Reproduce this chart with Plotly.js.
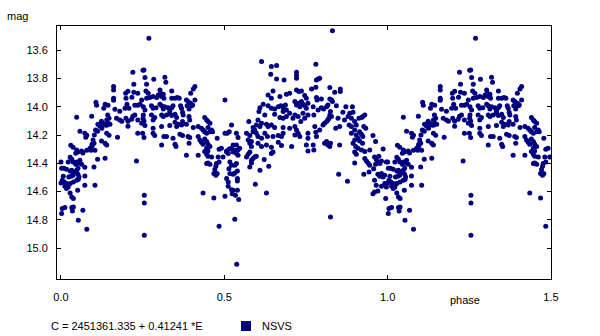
<!DOCTYPE html>
<html>
<head>
<meta charset="utf-8">
<script src="https://cdn.plot.ly/plotly-3.0.1.min.js"></script>
<style>html,body{margin:0;padding:0;background:#fff;}#chart{width:600px;height:336px;}</style>
</head>
<body>
<div id="chart"></div>
<script>
// Phase-folded light curve (phase 0..1); the first half is repeated at phase+1 as in the original plot.
const phase = [
0.220,0.251,0.223,0.161,0.161,0.205,0.198,0.223,0.235,0.161,
0.161,0.107,0.109,0.135,0.144,0.131,0.199,0.202,0.196,0.208,
0.217,0.226,0.235,0.242,0.165,0.180,0.048,0.094,0.143,0.147,
0.140,0.170,0.180,0.186,0.199,0.205,0.216,0.220,0.226,0.235,
0.251,0.247,0.124,0.128,0.135,0.140,0.144,0.150,0.113,0.119,
0.125,0.205,0.058,0.106,0.112,0.102,0.073,0.079,0.076,0.140,
0.147,0.173,0.235,0.098,0.095,0.101,0.089,0.095,0.124,0.135,
0.140,0.030,0.037,0.048,0.063,
0.052,0.067,0.079,0.092,0.104,0.045,0.028,0.033,0.022,0.037,
0.048,0.058,0.052,0.063,0.045,0.000,0.002,0.009,0.017,0.028,
0.033,0.037,0.043,0.048,0.052,0.073,0.101,0.112,0.135,0.231,
0.007,0.024,0.031,0.037,0.052,0.055,0.073,0.004,0.000,0.010,
0.017,0.022,0.012,0.028,0.038,0.048,0.053,0.073,0.104,0.017,
0.022,0.028,0.033,0.038,0.051,0.004,0.012,0.002,0.033,0.038,
0.035,0.067,0.053,0.079,0.255,0.255,0.255,
0.269,0.254,0.257,0.262,0.284,0.318,0.321,0.260,0.267,0.303,
0.339,0.410,0.405,0.397,0.247,0.262,0.272,0.282,0.293,0.298,
0.305,0.308,0.313,0.315,0.339,0.349,0.356,0.362,0.384,0.389,
0.397,0.403,0.410,0.502,0.252,0.257,0.277,0.282,0.291,0.303,
0.308,0.313,0.318,0.328,0.333,0.339,0.343,0.366,0.369,0.386,
0.392,0.400,0.252,0.277,0.287,0.282,0.308,0.313,0.323,0.333,
0.339,0.349,0.354,0.372,0.374,0.392,0.394,0.254,0.257,0.282,
0.308,0.333,0.349,0.354,0.359,0.369,0.372,0.384,0.405,0.440,
0.446,0.450,0.456,0.420,0.430,0.435,0.440,0.446,0.450,0.456,
0.461,0.250,0.254,0.282,0.287,0.315,0.323,0.343,0.364,0.372,
0.389,0.394,0.308,0.349,0.352,0.392,0.420,0.425,0.430,0.435,
0.440,0.446,0.450,0.446,0.450,0.456,0.440,0.464,0.478,0.484,
0.491,0.502,0.509,0.515,0.507,0.515,
0.384,0.420,0.446,0.450,0.461,0.481,0.484,0.476,0.474,0.471,
0.468,0.474,0.478,0.446,0.450,0.456,0.435,0.468,0.484,0.496,
0.614,0.644,0.660,0.642,0.660,0.683,0.721,0.721,0.721,0.649,
0.634,0.644,0.670,0.690,0.700,0.721,0.728,0.736,0.746,0.751,
0.609,0.606,0.619,0.634,0.644,0.654,0.665,0.673,0.680,0.687,
0.690,0.680,0.716,0.721,0.726,0.731,0.736,0.741,0.746,0.751,
0.756,0.624,0.654,0.670,0.680,0.690,0.700,0.710,0.716,0.726,
0.734,0.741,0.746,0.756,0.575,0.522,0.603,0.614,0.598,0.588,
0.609,0.629,0.634,0.644,0.654,0.680,0.700,0.716,0.721,0.726,
0.756,0.537,0.542,0.568,0.578,0.588,0.593,0.598,0.603,0.614,
0.624,0.632,0.649,0.665,0.675,0.680,0.716,0.731,0.756,0.522,
0.527,0.537,0.542,0.547,0.573,0.578,0.583,0.583,0.603,0.614,
0.629,0.644,0.665,0.675,0.706,0.751,
0.507,0.512,0.527,0.532,0.537,0.542,0.568,0.573,0.578,0.583,
0.588,0.593,0.598,0.583,0.622,0.644,0.649,0.756,0.517,0.522,
0.532,0.537,0.514,0.517,0.527,0.532,0.540,0.578,0.609,0.636,
0.507,0.512,0.540,0.540,0.595,0.512,0.522,0.527,0.540,0.524,
0.534,0.544,0.502,0.629,0.532,0.538,
0.831,0.780,0.782,0.787,0.792,0.767,0.780,0.823,0.855,0.855,
0.838,0.782,0.784,0.797,0.823,0.828,0.831,0.843,0.772,0.787,
0.797,0.804,0.813,0.817,0.823,0.825,0.820,0.813,0.807,0.802,
0.817,0.828,0.774,0.777,0.780,0.782,0.792,0.848,0.863,0.868,
0.872,0.879,0.884,0.889,0.892,0.894,0.899,0.882,0.889,0.853,
0.841,0.904,0.912,0.920,0.924,0.930,0.927,0.933,0.889,0.899,
0.904,0.914,0.920,0.924,0.909,0.914,0.923,0.899,0.894,0.902,
0.909,0.920,0.930,0.945,0.955,0.963,0.986,0.813,0.817,0.825,
0.823,0.853,0.807,0.772,0.774,
0.899,0.904,0.899,0.930,0.935,0.940,0.945,0.960,0.965,0.970,
0.976,0.963,0.957,0.973,0.981,0.996,0.850,0.877,0.927,0.943,
0.970,0.976,0.981,0.986,0.991,0.960,0.965,0.960,0.970,0.955,
0.981,0.991,0.996,0.994,0.825
];
const mag = [
13.756,13.742,13.841,13.857,13.881,13.890,13.904,13.897,13.904,13.940,
13.954,13.968,13.989,13.982,13.989,14.011,13.940,13.982,14.011,14.011,
13.933,13.989,13.989,13.982,14.018,14.032,14.074,14.067,14.058,14.081,
14.093,14.081,14.093,14.103,14.081,14.103,14.089,14.067,14.058,14.093,
14.081,14.117,14.103,14.117,14.129,14.131,14.117,14.124,14.124,14.138,
14.152,14.138,14.173,14.164,14.173,14.200,14.188,14.202,14.216,14.188,
14.202,14.216,14.188,14.235,14.266,14.258,14.294,14.280,14.242,14.258,
14.270,14.273,14.287,14.306,14.313,
14.320,14.327,14.308,14.308,14.308,14.329,14.358,14.372,14.391,14.391,
14.391,14.379,14.400,14.407,14.407,14.391,14.435,14.435,14.443,14.455,
14.450,14.469,14.462,14.450,14.435,14.428,14.426,14.372,14.365,14.384,
14.492,14.497,14.492,14.485,14.478,14.497,14.490,14.520,14.540,14.532,
14.544,14.556,14.563,14.544,14.532,14.520,14.515,14.556,14.556,14.579,
14.568,14.610,14.639,14.650,14.591,14.721,14.714,14.756,14.714,14.709,
14.738,14.733,14.804,14.867,14.627,14.681,14.910,
13.515,13.739,13.793,13.841,13.805,13.791,13.827,13.888,13.904,13.881,
13.888,13.857,13.874,13.904,13.952,13.940,13.935,13.928,13.935,13.916,
13.904,13.928,13.912,13.940,13.940,13.940,13.935,13.940,13.952,13.963,
13.975,13.987,13.952,13.952,13.999,14.023,13.992,14.011,14.006,13.982,
13.992,14.016,14.000,14.006,14.030,14.006,13.992,13.992,14.011,13.992,
14.016,13.992,14.058,14.058,14.076,14.093,14.058,14.069,14.058,14.046,
14.062,14.053,14.076,14.039,14.058,14.069,14.093,14.101,14.133,14.152,
14.140,14.133,14.110,14.140,14.124,14.129,14.105,14.124,14.147,14.076,
14.093,14.105,14.117,14.140,14.152,14.164,14.176,14.188,14.147,14.176,
14.164,14.188,14.218,14.188,14.204,14.211,14.211,14.223,14.195,14.204,
14.211,14.218,14.270,14.266,14.282,14.258,14.211,14.235,14.251,14.266,
14.228,14.246,14.266,14.294,14.313,14.282,14.317,14.176,14.223,14.301,
14.294,14.188,14.188,14.176,14.313,14.299,
14.343,14.343,14.336,14.350,14.355,14.355,14.391,14.402,14.421,14.445,
14.473,14.485,14.473,14.402,14.398,14.407,14.610,14.646,14.846,14.355,
13.680,13.715,13.708,13.770,13.803,13.810,13.756,13.779,13.798,13.888,
13.916,13.940,13.928,13.912,13.904,13.881,13.892,13.888,13.921,13.940,
14.006,14.034,13.982,13.992,14.011,14.016,14.000,13.992,14.006,13.987,
14.023,14.034,13.963,13.987,13.975,14.000,13.963,13.982,13.992,14.011,
13.975,14.058,14.053,14.076,14.081,14.069,14.046,14.081,14.058,14.069,
14.105,14.046,14.081,14.058,14.105,14.129,14.093,14.117,14.129,14.147,
14.140,14.124,14.140,14.129,14.147,14.147,14.152,14.140,14.164,14.188,
14.188,14.188,14.218,14.188,14.204,14.176,14.164,14.188,14.211,14.223,
14.188,14.211,14.211,14.204,14.211,14.188,14.200,14.211,14.223,14.294,
14.270,14.270,14.306,14.294,14.235,14.258,14.246,14.282,14.258,14.282,
14.270,14.287,14.251,14.275,14.282,14.270,
14.320,14.331,14.320,14.308,14.331,14.343,14.355,14.336,14.320,14.379,
14.367,14.355,14.350,14.398,14.374,14.331,14.320,14.313,14.391,14.414,
14.414,14.402,14.438,14.473,14.478,14.469,14.455,14.426,14.450,14.421,
14.508,14.532,14.508,14.525,14.549,14.563,14.587,14.591,14.591,14.615,
14.627,14.657,14.634,14.610,14.797,15.115,
13.461,13.699,13.810,13.803,13.798,13.874,13.862,13.864,13.874,13.892,
13.897,13.935,13.952,13.945,13.945,13.952,13.963,13.992,13.999,14.023,
14.006,14.016,13.999,13.987,14.058,14.034,14.081,14.105,14.117,14.129,
14.093,14.069,14.058,14.140,14.181,14.211,14.164,14.081,14.039,14.093,
13.999,14.069,14.046,14.081,13.999,14.039,14.105,14.129,14.140,14.140,
14.152,14.129,14.081,14.076,14.069,14.058,14.140,14.152,14.188,14.164,
14.200,14.176,14.195,14.211,14.223,14.242,14.258,14.235,14.258,14.282,
14.294,14.306,14.317,14.306,14.204,14.246,14.299,14.246,14.270,14.258,
14.282,14.270,14.258,14.270,14.306,
14.320,14.336,14.398,14.367,14.384,14.398,14.414,14.355,14.374,14.391,
14.402,14.407,14.438,14.350,14.384,14.391,14.478,14.527,14.478,14.462,
14.478,14.492,14.473,14.497,14.485,14.520,14.556,14.603,14.596,14.615,
14.563,14.544,14.568,14.650,14.780
];
const xTickVals = [0, 0.5, 1.0, 1.5];
const xTickText = ["0.0", "0.5", "1.0", "1.5"];
const yTickVals = [13.6, 13.8, 14.0, 14.2, 14.4, 14.6, 14.8, 15.0];
const yTickText = ["13.6", "13.8", "14.0", "14.2", "14.4", "14.6", "14.8", "15.0"];
const seriesName = "NSVS";
const ephemeris = "C = 2451361.335 + 0.41241 *E";

const xs = [], ys = [];
phase.forEach((p, i) => {
  xs.push(p); ys.push(mag[i]);
  if (p < 0.5) { xs.push(p + 1); ys.push(mag[i]); }
});

const navy = "#000080";
const font = {family: "Liberation Sans, Arial, sans-serif", size: 11, color: "#000"};

const trace = {
  x: xs, y: ys, type: "scatter", mode: "markers", name: seriesName,
  marker: {symbol: "circle", size: 5, color: navy, line: {width: 0}},
  hoverinfo: "skip", showlegend: false
};

const layout = {
  width: 600, height: 336,
  margin: {l: 57, r: 49, t: 26, b: 57, pad: 0},
  paper_bgcolor: "#fff", plot_bgcolor: "#fff",
  font: font,
  showlegend: false,
  xaxis: {
    range: [-0.0122, 1.5], tickvals: xTickVals, ticktext: xTickText,
    ticks: "inside", ticklen: 4, tickcolor: "#000", tickwidth: 1,
    showline: true, linecolor: "#000", linewidth: 1, mirror: "allticks",
    showgrid: false, zeroline: false, ticklabelstandoff: 8,
    tickfont: font
  },
  yaxis: {
    range: [15.2195, 13.428], tickvals: yTickVals, ticktext: yTickText,
    ticks: "inside", ticklen: 4, tickcolor: "#000", tickwidth: 1,
    showline: true, linecolor: "#000", linewidth: 1, mirror: "allticks",
    showgrid: false, zeroline: false, ticklabelstandoff: 6,
    tickfont: font
  },
  annotations: [
    {text: "mag", xref: "paper", yref: "paper", x: -0.105, y: 1.04, xanchor: "left", yanchor: "middle", showarrow: false, font: font},
    {text: "phase", xref: "paper", yref: "paper", x: 0.826, y: -0.083, xanchor: "center", yanchor: "middle", showarrow: false, font: font},
    {text: ephemeris, xref: "paper", yref: "paper", x: -0.016, y: -0.186, xanchor: "left", yanchor: "middle", showarrow: false, font: font},
    {text: seriesName, xref: "paper", yref: "paper", x: 0.411, y: -0.186, xanchor: "left", yanchor: "middle", showarrow: false, font: font}
  ],
  shapes: [
    {type: "rect", xref: "paper", yref: "paper", x0: 0.3725, x1: 0.3927, y0: -0.2055, y1: -0.166, fillcolor: navy, line: {width: 0}}
  ]
};

Plotly.newPlot("chart", [trace], layout, {displayModeBar: false, staticPlot: true});
</script>
</body>
</html>
